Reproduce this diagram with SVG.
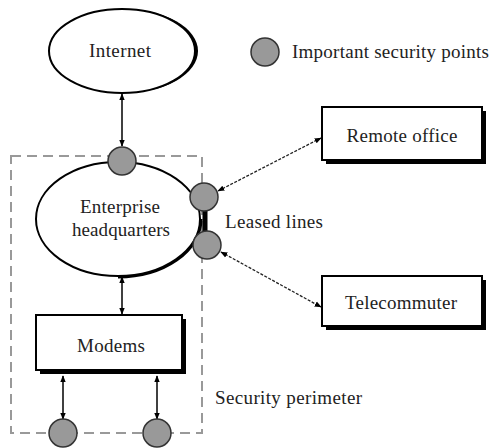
<svg xmlns="http://www.w3.org/2000/svg" width="492" height="448" viewBox="0 0 492 448">
<defs>
<marker id="ah" viewBox="0 0 10 10" refX="9" refY="5" markerWidth="7" markerHeight="7" orient="auto-start-reverse" markerUnits="userSpaceOnUse">
<path d="M0,1 L10,5 L0,9 Z" fill="#000"/>
</marker>
<style>
.t{font-family:"Liberation Serif","Times New Roman",serif;font-size:19px;fill:#222}
.pt{fill:#999;stroke:#333;stroke-width:1.5}
.ln{stroke:#000;stroke-width:1.5;fill:none}
.dl{stroke:#222;stroke-width:1.3;stroke-dasharray:3,1.5;fill:none}
.box{fill:#fff;stroke:#000;stroke-width:2}
.sh{fill:#000}
.per{fill:none;stroke:#999;stroke-width:2;stroke-dasharray:10,6}
</style>
</defs>
<rect width="492" height="448" fill="#fff"/>
<g id="perimeter">
<rect class="per" x="11" y="156" width="191" height="277"/>
<text class="t" x="215" y="404" textLength="147">Security perimeter</text>
</g>
<g id="connectors">
<line class="ln" x1="122" y1="94" x2="122" y2="146" marker-start="url(#ah)" marker-end="url(#ah)"/>
<line class="ln" x1="122" y1="277" x2="122" y2="314" marker-start="url(#ah)" marker-end="url(#ah)"/>
<line class="ln" x1="63" y1="376" x2="63" y2="419" marker-start="url(#ah)" marker-end="url(#ah)"/>
<line class="ln" x1="157" y1="376" x2="157" y2="419" marker-start="url(#ah)" marker-end="url(#ah)"/>
<line class="dl" x1="321" y1="138" x2="218" y2="191" marker-start="url(#ah)" marker-end="url(#ah)"/>
<line class="dl" x1="221" y1="252" x2="321" y2="307" marker-start="url(#ah)" marker-end="url(#ah)"/>
</g>
<g id="internet">
<ellipse cx="124" cy="51" rx="74" ry="42" fill="#000"/>
<ellipse cx="122" cy="51" rx="73" ry="42" fill="#fff" stroke="#000" stroke-width="2"/>
<text class="t" x="120" y="57" text-anchor="middle" textLength="62">Internet</text>
</g>
<g id="enterprise">
<path d="M200,219 A82,57 0 0 1 118,276" stroke="#000" stroke-width="5" fill="none"/>
<ellipse cx="118" cy="219" rx="82" ry="57" fill="#fff" stroke="#000" stroke-width="2"/>
<line x1="205" y1="205" x2="205" y2="238" stroke="#000" stroke-width="5"/>
<text class="t" x="120" y="213" text-anchor="middle" textLength="80">Enterprise</text>
<text class="t" x="121" y="236" text-anchor="middle" textLength="98">headquarters</text>
</g>
<g id="remote-office">
<rect class="sh" x="326" y="111" width="160" height="53"/>
<rect class="box" x="322" y="107" width="160" height="53"/>
<text class="t" x="402" y="142" text-anchor="middle" textLength="111">Remote office</text>
</g>
<g id="telecommuter">
<rect class="sh" x="326" y="280" width="160" height="50"/>
<rect class="box" x="322" y="276" width="160" height="50"/>
<text class="t" x="401" y="309" text-anchor="middle" textLength="112">Telecommuter</text>
</g>
<g id="modems">
<rect class="sh" x="40" y="319" width="146" height="55"/>
<rect class="box" x="36" y="315" width="146" height="55"/>
<text class="t" x="111" y="352" text-anchor="middle" textLength="68">Modems</text>
</g>
<g id="leased-lines">
<text class="t" x="225" y="228" textLength="98">Leased lines</text>
</g>
<g id="points">
<circle class="pt" cx="122" cy="161" r="14"/>
<circle class="pt" cx="204" cy="197" r="14"/>
<circle class="pt" cx="207" cy="245" r="14"/>
<circle class="pt" cx="63" cy="433" r="14"/>
<circle class="pt" cx="157" cy="433" r="14"/>
</g>
<g id="legend">
<circle class="pt" cx="265" cy="52" r="14"/>
<text class="t" x="292" y="58" textLength="197">Important security points</text>
</g>
</svg>
